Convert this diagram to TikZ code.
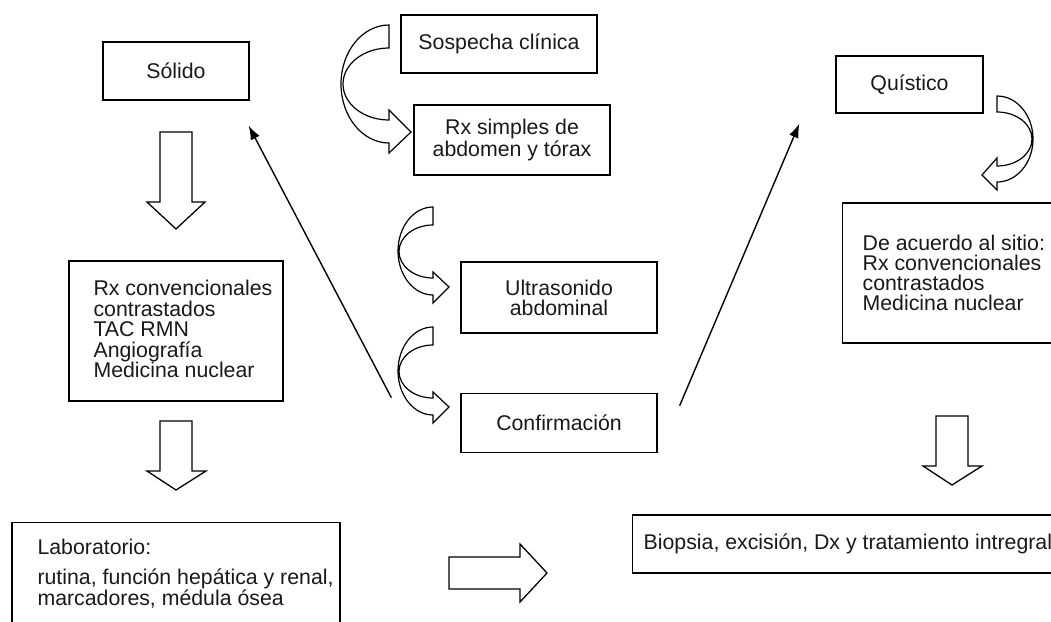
\documentclass[tikz,border=0pt]{standalone}
\usepackage{fontspec}
\setmainfont{Liberation Sans}
\usetikzlibrary{arrows.meta, positioning}
\tikzstyle{caja} = [rectangle, draw=black, line width=1.3pt, text centered, align=center, inner sep=0pt, font=\fontsize{21.3}{20}\selectfont]
\tikzstyle{lista} = [align=left, inner sep=0pt, font=\fontsize{21.3}{20.5}\selectfont]
\tikzstyle{bloque} = [draw=black, line width=1.3pt]
\tikzstyle{curva} = [draw=black, line width=1.2pt]
\tikzstyle{flecha} = [line width=1.4pt, -{Latex[length=14pt, width=10pt]}]

\begin{document}
\begin{tikzpicture}[x=1pt, y=-1pt, text=black!90]
\useasboundingbox (0,0) rectangle (1051,621);
\clip (0,0) rectangle (1051,621);

% Casillas
\node (solido) [caja, minimum width=146, minimum height=58] at (176,71) {Sólido};
\node (rxconv) [caja, minimum width=214, minimum height=140] at (176,331) {};
\node (rxconvtxt) [lista, right=25pt of rxconv.west, yshift=2pt] {Rx convencionales\\contrastados\\TAC RMN\\Angiografía\\Medicina nuclear};
\node (lab) [caja, minimum width=328, minimum height=130, anchor=north] at (176,522) {};
\node (labtxt) [lista, below right=17pt and 26pt of lab.north west, font=\fontsize{21.3}{20}\selectfont] {Laboratorio:\\[10pt]rutina, función hepática y renal,\\marcadores, médula ósea};

\node (sospecha) [caja, minimum width=196, minimum height=58] at (499,44) {Sospecha clínica};
\node (rxsimples) [caja, minimum width=196, minimum height=70, font=\fontsize{21.3}{22}\selectfont] at (512,140) {Rx simples de\\abdomen y tórax};
\node (ultra) [caja, minimum width=196, minimum height=71] at (559,297.5) {Ultrasonido\\abdominal};
\node (confirm) [caja, minimum width=196, minimum height=59, below=59pt of ultra] {Confirmación};

\node (quistico) [caja, minimum width=147, minimum height=57] at (909.5,84.5) {Quístico};
\node (acuerdo) [caja, minimum height=140, inner xsep=20pt, anchor=west, align=left, font=\fontsize{21.3}{20}\selectfont] at (842,273) {De acuerdo al sitio:\\Rx convencionales\\contrastados\\Medicina nuclear};
\node (biopsia) [caja, minimum height=58, inner xsep=11pt, anchor=west] at (632,544) {Biopsia, excisión, Dx y tratamiento intregral};

% Flechas huecas
\draw [bloque] (160,132) -- (192,132) -- (192,202) -- (205,202) -- (176,229) -- (147,202) -- (160,202) -- cycle;
\draw [bloque] (160,421) -- (192,421) -- (192,471) -- (206,471) -- (176,490) -- (147,471) -- (160,471) -- cycle;
\draw [bloque] (936,416) -- (968,416) -- (968,466) -- (982,466) -- (952,485) -- (923,466) -- (936,466) -- cycle;
\draw [bloque] (449,557) -- (520,557) -- (520,544) -- (547,573) -- (520,602) -- (520,589) -- (449,589) -- cycle;

% Flechas curvas
\draw [curva] (389,25) arc[start angle=270, end angle=90, x radius=48, y radius=59] -- (389,153) -- (411,132) -- (389,110) -- (389,120) arc[start angle=90, end angle=270, x radius=46, y radius=36] -- cycle;
\draw [curva] (433,207) arc[start angle=270, end angle=90, x radius=35, y radius=44] -- (433,303) -- (449,287) -- (433,272) -- (433,278) arc[start angle=90, end angle=270, x radius=34, y radius=26.5] -- cycle;
\draw [curva] (433,327) arc[start angle=270, end angle=90, x radius=35, y radius=44] -- (433,423) -- (449,407) -- (433,392) -- (433,398) arc[start angle=90, end angle=270, x radius=34, y radius=26.5] -- cycle;
\draw [curva] (997,96) arc[start angle=-90, end angle=90, x radius=36, y radius=43] -- (997,190) -- (982,175) -- (997,158) -- (997,166) arc[start angle=90, end angle=-90, x radius=35, y radius=27] -- cycle;

% Flechas rectas
\draw [flecha] ([xshift=-69pt, yshift=-5pt]confirm.north west) -- ([xshift=-1pt, yshift=-25pt]solido.south east);
\draw [flecha] ([xshift=22pt, yshift=-13pt]confirm.north east) -- ([xshift=-36pt, yshift=-10pt]quistico.south west);

\end{tikzpicture}
\end{document}
